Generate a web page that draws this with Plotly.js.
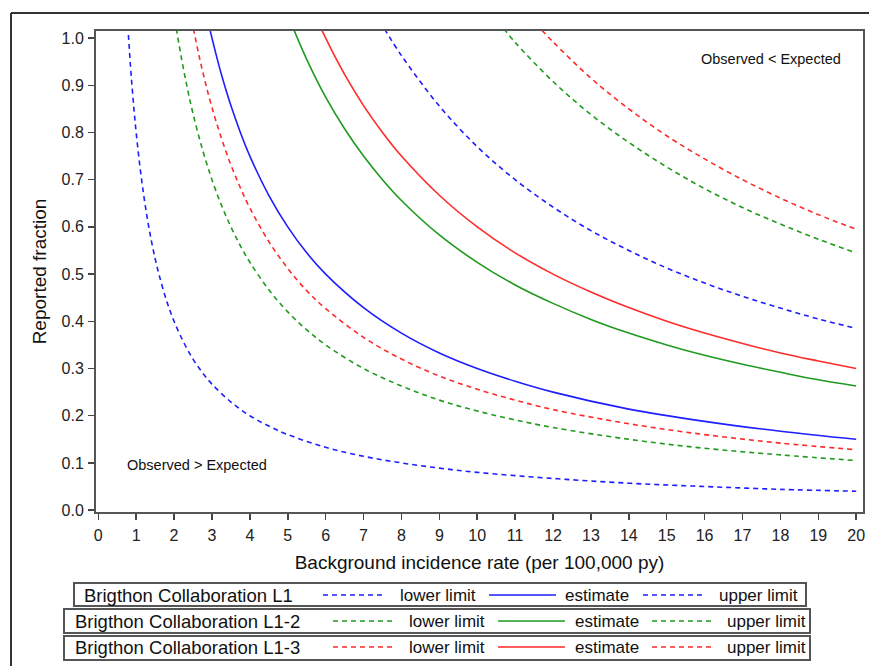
<!DOCTYPE html>
<html><head><meta charset="utf-8">
<script src="https://cdn.plot.ly/plotly-3.0.1.min.js"></script>
<style>body{margin:0;background:#fff}#c{width:869px;height:666px}</style>
</head><body><div id="c"></div>
<script>
// ---- data ----
const blueLowerX = [0.78,0.85,0.9,0.95,1,1.1,1.2,1.3,1.4,1.5,1.6,1.8,2,2.25,2.5,2.75,3,3.5,4,4.5,5,6,7,8,9,10,12,14,16,18,20];
const blueLowerY = [1.026,0.941,0.889,0.842,0.8,0.727,0.667,0.615,0.571,0.533,0.5,0.444,0.4,0.356,0.32,0.291,0.267,0.229,0.2,0.178,0.16,0.133,0.114,0.1,0.089,0.08,0.067,0.057,0.05,0.044,0.04];
const blueEstX = [2.94,3.1,3.25,3.5,3.75,4,4.5,5,5.5,6,7,8,9,10,11,12,14,16,18,20];
const blueEstY = [1.02,0.968,0.923,0.857,0.8,0.75,0.667,0.6,0.545,0.5,0.429,0.375,0.333,0.3,0.273,0.25,0.214,0.188,0.167,0.15];
const blueUpX = [7.55,8,9,10,11,12,13,14,15,16,17,18,19,20];
const blueUpY = [1.02,0.963,0.856,0.77,0.7,0.642,0.592,0.55,0.513,0.481,0.453,0.428,0.405,0.385];

const greenLowerX = [2.06,2.2,2.35,2.5,2.75,3,3.25,3.5,3.75,4,4.5,5,5.5,6,7,8,9,10,11,12,14,16,18,20];
const greenLowerY = [1.02,0.955,0.894,0.84,0.764,0.7,0.646,0.6,0.56,0.525,0.467,0.42,0.382,0.35,0.3,0.263,0.233,0.21,0.191,0.175,0.15,0.131,0.117,0.105];
const greenEstX = [5.15,5.5,6,6.5,7,7.5,8,9,10,11,12,13,14,15,16,17,18,19,20];
const greenEstY = [1.02,0.955,0.875,0.808,0.75,0.7,0.656,0.583,0.525,0.477,0.438,0.404,0.375,0.35,0.328,0.309,0.292,0.276,0.263];
const greenUpX = [10.7,11,12,13,14,15,16,17,18,19,20];
const greenUpY = [1.02,0.991,0.908,0.838,0.779,0.727,0.681,0.641,0.606,0.574,0.545];

const redLowerX = [2.51,2.65,2.8,3,3.25,3.5,3.75,4,4.5,5,5.5,6,7,8,9,10,11,12,14,16,18,20];
const redLowerY = [1.02,0.966,0.914,0.853,0.788,0.731,0.683,0.64,0.569,0.512,0.465,0.427,0.366,0.32,0.284,0.256,0.233,0.213,0.183,0.16,0.142,0.128];
const redEstX = [5.88,6.25,6.5,7,7.5,8,9,10,11,12,13,14,15,16,17,18,19,20];
const redEstY = [1.02,0.96,0.923,0.857,0.8,0.75,0.667,0.6,0.545,0.5,0.462,0.429,0.4,0.375,0.353,0.333,0.316,0.3];
const redUpX = [11.7,12,13,14,15,16,17,18,19,20];
const redUpY = [1.017,0.992,0.915,0.85,0.793,0.744,0.7,0.661,0.626,0.595];

const groupNames = ["Brigthon Collaboration L1","Brigthon Collaboration L1-2","Brigthon Collaboration L1-3"];
const itemNames = ["lower limit","estimate","upper limit"];
const xTicks = [0,1,2,3,4,5,6,7,8,9,10,11,12,13,14,15,16,17,18,19,20];
const yTicks = [0,0.1,0.2,0.3,0.4,0.5,0.6,0.7,0.8,0.9,1.0];
const yTickText = ["0.0","0.1","0.2","0.3","0.4","0.5","0.6","0.7","0.8","0.9","1.0"];

// ---- styling ----
const BLUE = "#1e1eff", GREEN = "#1f9a1f", RED = "#ff2a2a";
const DASH = "5px,4px";
const FONT = "Liberation Sans, Arial, sans-serif";

function tr(x, y, color, dashed) {
  return {x: x, y: y, type: "scatter", mode: "lines", showlegend: false, hoverinfo: "skip",
    line: {color: color, width: 1.6, dash: dashed ? DASH : "solid", shape: "spline", smoothing: 1}};
}
const data = [
  tr(blueLowerX, blueLowerY, BLUE, true), tr(blueEstX, blueEstY, BLUE, false), tr(blueUpX, blueUpY, BLUE, true),
  tr(greenLowerX, greenLowerY, GREEN, true), tr(greenEstX, greenEstY, GREEN, false), tr(greenUpX, greenUpY, GREEN, true),
  tr(redLowerX, redLowerY, RED, true), tr(redEstX, redEstY, RED, false), tr(redUpX, redUpY, RED, true)
];

// pixel -> paper helpers (plot area: x 96..863, y 31..512)
const L = 96, R = 863, T = 31, B = 512;
const px = p => (p - L) / (R - L);
const py = p => (B - p) / (B - T);

const shapes = [], annotations = [];
// outer frame (top and left lines)
shapes.push({type: "line", xref: "paper", yref: "paper", x0: px(11), x1: px(869), y0: py(13), y1: py(13), line: {color: "#333", width: 2}});
shapes.push({type: "line", xref: "paper", yref: "paper", x0: px(11), x1: px(11), y0: py(13), y1: py(667), line: {color: "#333", width: 2}});

// legend rows
const rows = [
  {box: [74, 583, 806, 606], color: BLUE, title: 82, s1: [323, 386], t1: 398, s2: [489, 556], t2: 563, s3: [643, 704], t3: 717, yc: 595},
  {box: [64, 609, 810, 633], color: GREEN, title: 73, s1: [333, 393], t1: 407, s2: [498, 565], t2: 573, s3: [652, 713], t3: 725, yc: 621},
  {box: [64, 636, 810, 660], color: RED, title: 73, s1: [333, 393], t1: 407, s2: [498, 565], t2: 573, s3: [652, 713], t3: 725, yc: 647}
];
rows.forEach((r, i) => {
  shapes.push({type: "rect", xref: "paper", yref: "paper", x0: px(r.box[0]), x1: px(r.box[2]), y0: py(r.box[1]), y1: py(r.box[3]),
    line: {color: "#555", width: 2}, fillcolor: "rgba(0,0,0,0)"});
  const samples = [[r.s1, true], [r.s2, false], [r.s3, true]];
  samples.forEach(s => shapes.push({type: "line", xref: "paper", yref: "paper", x0: px(s[0][0]), x1: px(s[0][1]), y0: py(r.yc), y1: py(r.yc),
    line: {color: r.color, width: 1.6, dash: s[1] ? DASH : "solid"}}));
  const texts = [[groupNames[i], r.title, 18.5], [itemNames[0], r.t1, 17], [itemNames[1], r.t2, 17], [itemNames[2], r.t3, 17]];
  texts.forEach(t => annotations.push({xref: "paper", yref: "paper", x: px(t[1]), y: py(r.yc), text: t[0], showarrow: false,
    xanchor: "left", yanchor: "middle", font: {family: FONT, size: t[2], color: "#111"}}));
});

annotations.push({x: 17.75, y: 0.955, xref: "x", yref: "y", text: "Observed < Expected", showarrow: false,
  font: {family: FONT, size: 14.5, color: "#111"}});
annotations.push({x: 2.6, y: 0.095, xref: "x", yref: "y", text: "Observed > Expected", showarrow: false,
  font: {family: FONT, size: 14.5, color: "#111"}});

const layout = {
  width: 869, height: 666,
  margin: {l: L, r: 869 - R, t: T, b: 666 - B, pad: 0},
  paper_bgcolor: "#fff", plot_bgcolor: "#fff",
  font: {family: FONT, color: "#222", size: 16},
  showlegend: false,
  xaxis: {range: [-0.06, 20.18], tickvals: xTicks, ticks: "outside", ticklen: 6, tickwidth: 1.5, tickcolor: "#444",
    showgrid: false, zeroline: false, showline: true, mirror: true, linecolor: "#555", linewidth: 2,
    tickfont: {family: FONT, size: 16, color: "#222"}, ticklabelstandoff: 2,
    title: {text: "Background incidence rate (per 100,000 py)", font: {family: FONT, size: 19, color: "#111"}, standoff: 12}},
  yaxis: {range: [-0.004, 1.015], tickvals: yTicks, ticktext: yTickText, ticks: "outside", ticklen: 6, tickwidth: 1.5, tickcolor: "#444",
    showgrid: false, zeroline: false, showline: true, mirror: true, linecolor: "#555", linewidth: 2,
    tickfont: {family: FONT, size: 16, color: "#222"}, ticklabelstandoff: 1,
    title: {text: "Reported fraction", font: {family: FONT, size: 19, color: "#111"}, standoff: 10}},
  shapes: shapes, annotations: annotations
};
Plotly.newPlot("c", data, layout, {displayModeBar: false, staticPlot: true});
</script></body></html>
